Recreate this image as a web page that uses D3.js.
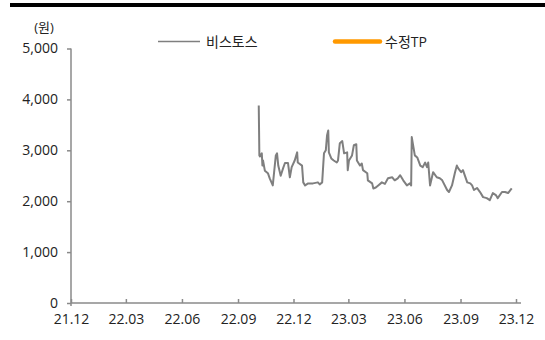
<!DOCTYPE html>
<html><head><meta charset="utf-8">
<script src="https://cdn.jsdelivr.net/npm/d3@7"></script>
<style>body{margin:0;background:#fff}svg{display:block}text{font-family:"Open Sans","Noto Sans CJK KR",sans-serif;fill:#222}</style>
</head><body><svg id="c" width="545" height="340"></svg>
<script>
const seriesNames = ["비스토스", "수정TP"];
const yTicks = [0, 1000, 2000, 3000, 4000, 5000];
const xTickLabels = ["21.12","22.03","22.06","22.09","22.12","23.03","23.06","23.09","23.12"];
const priceDates = ["2022-10-05","2022-10-06","2022-10-07","2022-10-10","2022-10-11","2022-10-12","2022-10-15","2022-10-20","2022-10-23","2022-10-28","2022-11-02","2022-11-04","2022-11-06","2022-11-10","2022-11-14","2022-11-17","2022-11-22","2022-11-25","2022-11-28","2022-12-03","2022-12-07","2022-12-08","2022-12-15","2022-12-17","2022-12-20","2022-12-25","2023-01-02","2023-01-10","2023-01-13","2023-01-17","2023-01-20","2023-01-23","2023-01-25","2023-01-27","2023-01-28","2023-02-01","2023-02-05","2023-02-10","2023-02-12","2023-02-15","2023-02-19","2023-02-22","2023-02-27","2023-02-28","2023-03-02","2023-03-07","2023-03-10","2023-03-14","2023-03-15","2023-03-20","2023-03-23","2023-03-25","2023-04-01","2023-04-02","2023-04-09","2023-04-11","2023-04-15","2023-04-19","2023-04-25","2023-04-30","2023-05-05","2023-05-12","2023-05-16","2023-05-21","2023-05-25","2023-05-30","2023-06-05","2023-06-10","2023-06-12","2023-06-13","2023-06-18","2023-06-22","2023-06-27","2023-07-01","2023-07-05","2023-07-08","2023-07-10","2023-07-13","2023-07-18","2023-07-24","2023-07-29","2023-08-02","2023-08-10","2023-08-13","2023-08-18","2023-08-23","2023-08-26","2023-08-28","2023-09-02","2023-09-05","2023-09-12","2023-09-17","2023-09-20","2023-09-23","2023-09-28","2023-10-03","2023-10-08","2023-10-14","2023-10-19","2023-10-24","2023-10-29","2023-11-01","2023-11-08","2023-11-13","2023-11-18","2023-11-24"];
const priceValues = [3880,2900,2880,2940,2700,2800,2600,2550,2450,2310,2900,2940,2700,2500,2650,2750,2750,2470,2670,2800,2960,2760,2700,2370,2310,2350,2350,2370,2330,2370,2940,3000,3290,3390,2960,2840,2800,2760,2800,3140,3180,2940,2960,2610,2800,2900,3100,3120,2800,2700,2740,2610,2550,2410,2350,2250,2270,2310,2370,2340,2450,2470,2410,2450,2510,2410,2310,2350,2310,3260,2900,2860,2700,2670,2760,2670,2760,2310,2570,2470,2450,2410,2220,2180,2310,2570,2700,2650,2570,2610,2370,2350,2310,2220,2260,2180,2080,2060,2020,2160,2120,2060,2180,2180,2160,2250,2250];
const tpDates = [];
const tpValues = [];

const svg = d3.select("#c");
const parse = d3.timeParse("%Y-%m-%d");
const x = d3.scaleTime().domain([parse("2021-12-01"), parse("2023-12-01")]).range([71, 516]);
const y = d3.scaleLinear().domain([0, 5000]).range([303, 48.5]);
const axisColor = "#8a8a8a";

// top bar
svg.append("rect").attr("x", 10).attr("y", 3).attr("width", 535).attr("height", 4).attr("fill", "#000");

// y axis
const yAxis = svg.append("g").attr("transform", "translate(71,0)")
  .call(d3.axisLeft(y).tickValues(yTicks).tickSize(4).tickPadding(9).tickFormat(d3.format(",")));
yAxis.select(".domain").attr("stroke", axisColor).attr("stroke-width", 1.5).attr("d", "M0,48.5V306");
yAxis.selectAll(".tick line").attr("stroke", axisColor).attr("stroke-width", 1.5);
yAxis.selectAll("text").style("font-size", "14px").attr("fill", "#222");

// x axis
const xTickDates = xTickLabels.map(s => parse("20" + s.slice(0,2) + "-" + s.slice(3) + "-01"));
const xAxis = svg.append("g").attr("transform", "translate(0,303)")
  .call(d3.axisBottom(x).tickValues(xTickDates).tickSizeInner(-4).tickSizeOuter(0).tickPadding(11)
    .tickFormat((d,i) => xTickLabels[i]));
xAxis.select(".domain").attr("stroke", axisColor).attr("stroke-width", 1.5).attr("d", "M71,0H521");
xAxis.selectAll(".tick line").attr("stroke", axisColor).attr("stroke-width", 1.5);
xAxis.selectAll("text").style("font-size", "14px").attr("fill", "#222");

// unit
svg.append("text").attr("x", 44).attr("y", 32).attr("text-anchor", "middle").style("font-size", "13px").text("(원)");

// price line
const data = priceDates.map((d,i) => ({d: parse(d), v: priceValues[i]}));
svg.append("path").datum(data).attr("fill", "none").attr("stroke", "#7f7f7f").attr("stroke-width", 2)
  .attr("stroke-linejoin", "round")
  .attr("d", d3.line().x(p => x(p.d)).y(p => y(p.v)));
const tp = tpDates.map((d,i) => ({d: parse(d), v: tpValues[i]}));
svg.append("path").datum(tp).attr("fill", "none").attr("stroke", "#FF9900").attr("stroke-width", 4)
  .attr("d", d3.line().x(p => x(p.d)).y(p => y(p.v)));

// legend
const lg = svg.append("g");
lg.append("line").attr("x1", 158).attr("x2", 200).attr("y1", 41.5).attr("y2", 41.5).attr("stroke", "#7f7f7f").attr("stroke-width", 1.5);
lg.append("text").attr("x", 206).attr("y", 47).style("font-size", "14px").text(seriesNames[0]);
lg.append("line").attr("x1", 335).attr("x2", 380).attr("y1", 41.5).attr("y2", 41.5).attr("stroke", "#FF9900").attr("stroke-width", 4.5).attr("stroke-linecap", "round");
lg.append("text").attr("x", 385).attr("y", 47).style("font-size", "14px").text(seriesNames[1]);
</script></body></html>
